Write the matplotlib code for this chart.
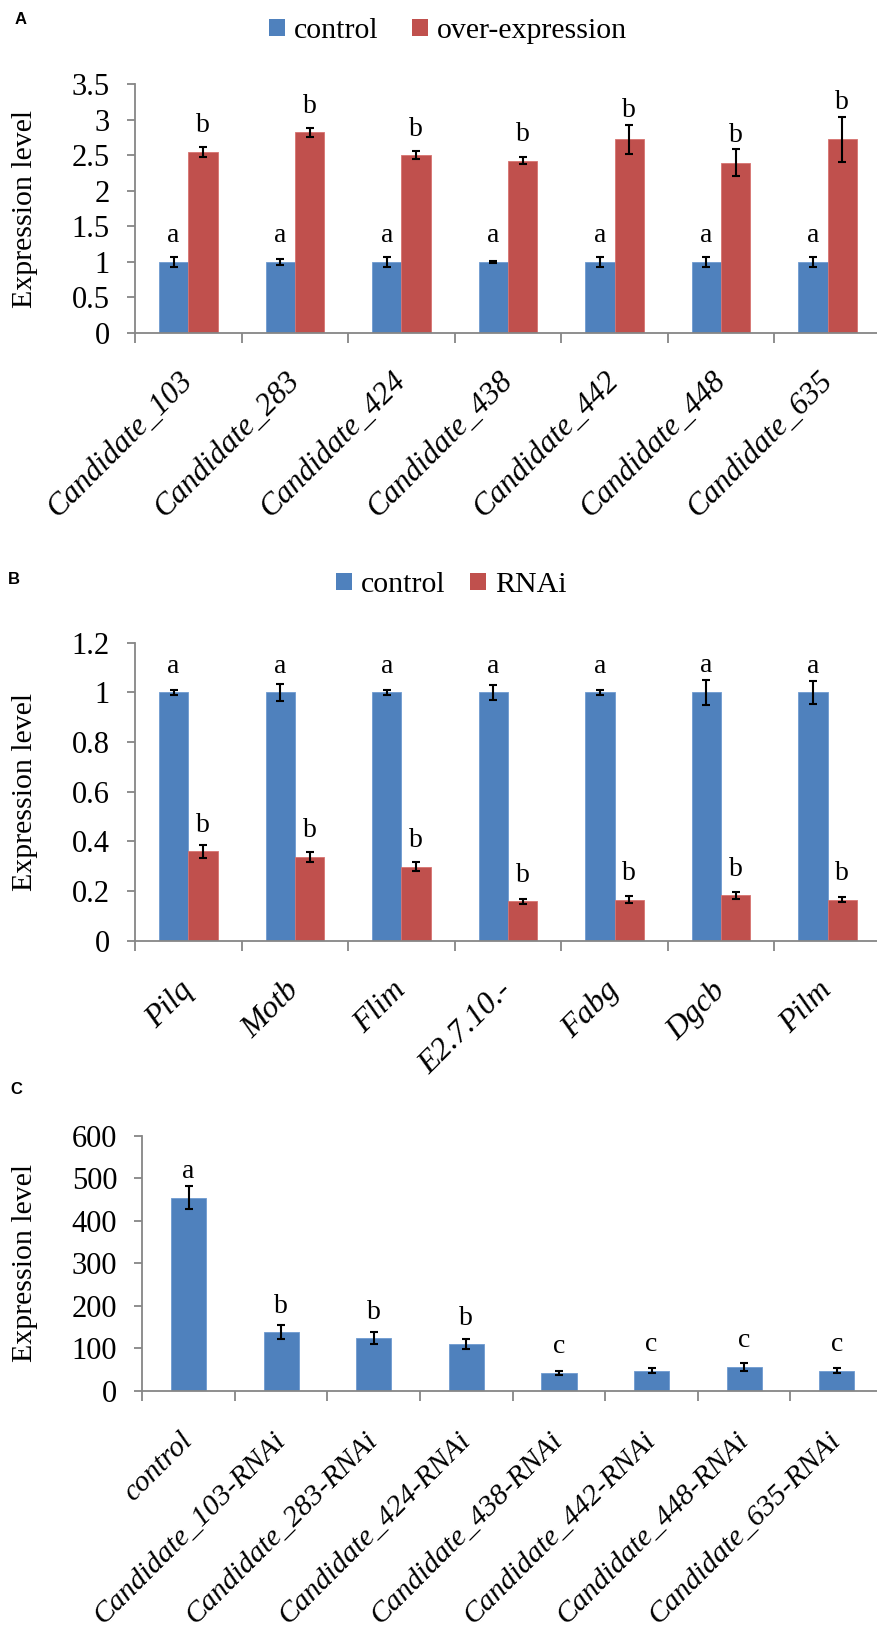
import matplotlib
matplotlib.use("Agg")
import matplotlib.pyplot as plt
import matplotlib.transforms as mtransforms
from matplotlib.patches import Patch
import numpy as np

# ---------------- data ----------------
cats_a = ["Candidate_103", "Candidate_283", "Candidate_424", "Candidate_438",
          "Candidate_442", "Candidate_448", "Candidate_635"]
ctrl_a = [1.0, 1.0, 1.0, 1.0, 1.0, 1.0, 1.0]
ctrl_a_err = [0.07, 0.04, 0.07, 0.01, 0.07, 0.07, 0.07]
over_a = [2.55, 2.82, 2.50, 2.42, 2.72, 2.39, 2.72]
over_a_err = [0.07, 0.06, 0.06, 0.05, 0.21, 0.19, 0.32]
letters_ctrl_a = ["a"] * 7
letters_over_a = ["b"] * 7

cats_b = ["Pilq", "Motb", "Flim", "E2.7.10.-", "Fabg", "Dgcb", "Pilm"]
ctrl_b = [1.0, 1.0, 1.0, 1.0, 1.0, 1.0, 1.0]
ctrl_b_err = [0.01, 0.034, 0.01, 0.029, 0.01, 0.05, 0.047]
rnai_b = [0.359, 0.337, 0.298, 0.158, 0.165, 0.182, 0.165]
rnai_b_err = [0.025, 0.02, 0.017, 0.009, 0.015, 0.013, 0.01]
letters_ctrl_b = ["a"] * 7
letters_rnai_b = ["b"] * 7

cats_c = ["control", "Candidate_103-RNAi", "Candidate_283-RNAi", "Candidate_424-RNAi",
          "Candidate_438-RNAi", "Candidate_442-RNAi", "Candidate_448-RNAi",
          "Candidate_635-RNAi"]
vals_c = [455, 138, 124, 110, 42, 47, 56, 47]
vals_c_err = [27, 16, 15, 11, 5.5, 5.5, 9.5, 5.5]
letters_c = ["a", "b", "b", "b", "c", "c", "c", "c"]

# ---------------- style ----------------
BLUE = "#4F81BD"
RED = "#C0504D"
GREY = "#868686"
SERIF = ["Liberation Serif", "DejaVu Serif"]
plt.rcParams["font.family"] = SERIF

W, H = 877, 1634
DPI = 100
fig = plt.figure(figsize=(W / DPI, H / DPI), dpi=DPI)


def rect(l, r, t, b):
    return [l / W, 1 - b / H, (r - l) / W, (b - t) / H]


def style_axes(ax, n, ymax, ystep, xlabels, xfs, xpad):
    ax.set_xlim(-0.5, n - 0.5)
    ax.set_ylim(0, ymax)
    ax.set_yticks(np.arange(0, ymax + ystep / 2, ystep))
    for s in ["top", "right"]:
        ax.spines[s].set_visible(False)
    for s in ["left", "bottom"]:
        ax.spines[s].set_color(GREY)
        ax.spines[s].set_linewidth(1.3)
    ax.tick_params(axis="y", direction="out", length=6, width=1.3, color=GREY,
                   pad=12, labelsize=22)
    ax.set_xticks(np.arange(n))
    ax.set_xticks(np.arange(-0.5, n + 0.5, 1.0), minor=True)
    ax.tick_params(axis="x", which="major", length=0, pad=xpad)
    ax.tick_params(axis="x", which="minor", direction="out", length=7, width=1.3,
                   color=GREY)
    ax.set_xticklabels(xlabels, rotation=45, ha="right", va="center",
                       rotation_mode="anchor", fontstyle="italic", fontsize=xfs)
    ax.set_ylabel("Expression level", fontsize=21.5)
    ax.yaxis.set_label_coords(38 / W, 0.5,
                              transform=mtransforms.blended_transform_factory(
                                  fig.transFigure, ax.transAxes))


def put_letter(ax, x, v, e, txt):
    p0 = ax.transData.transform((0, v))[1]
    p1 = ax.transData.transform((0, v + e))[1]
    off_px = max(26.0, (p1 - p0) + 14.0)
    ax.annotate(txt, xy=(x, v), xytext=(0, off_px * 72 / DPI),
                textcoords="offset points", ha="center", va="center",
                fontsize=20)


ebkw = dict(fmt="none", ecolor="black", elinewidth=1.5, capsize=3.2, capthick=1.5)
bw = 0.275

# ---------------- Panel A ----------------
axA = fig.add_axes(rect(135, 881, 84, 333))
xa = np.arange(len(cats_a))
axA.bar(xa - bw / 2, ctrl_a, bw, color=BLUE, edgecolor="#6E9AD0", linewidth=0.6)
axA.bar(xa + bw / 2, over_a, bw, color=RED, edgecolor="#D77370", linewidth=0.6)
axA.errorbar(xa - bw / 2, ctrl_a, yerr=ctrl_a_err, **ebkw)
axA.errorbar(xa + bw / 2, over_a, yerr=over_a_err, **ebkw)
style_axes(axA, len(cats_a), 3.5, 0.5, cats_a, 22.5, 31)
axA.set_yticklabels(["%g" % v for v in np.arange(0, 3.75, 0.5)])
for i in range(len(cats_a)):
    put_letter(axA, xa[i] - bw / 2, ctrl_a[i], ctrl_a_err[i], letters_ctrl_a[i])
    put_letter(axA, xa[i] + bw / 2, over_a[i], over_a_err[i], letters_over_a[i])

# ---------------- Panel B ----------------
axB = fig.add_axes(rect(135, 881, 642.7, 940.5))
xb = np.arange(len(cats_b))
axB.bar(xb - bw / 2, ctrl_b, bw, color=BLUE, edgecolor="#6E9AD0", linewidth=0.6)
axB.bar(xb + bw / 2, rnai_b, bw, color=RED, edgecolor="#D77370", linewidth=0.6)
axB.errorbar(xb - bw / 2, ctrl_b, yerr=ctrl_b_err, **ebkw)
axB.errorbar(xb + bw / 2, rnai_b, yerr=rnai_b_err, **ebkw)
style_axes(axB, len(cats_b), 1.2, 0.2, cats_b, 23, 33)
axB.set_yticklabels(["%g" % round(v, 1) for v in np.arange(0, 1.3, 0.2)])
for i in range(len(cats_b)):
    put_letter(axB, xb[i] - bw / 2, ctrl_b[i], ctrl_b_err[i], letters_ctrl_b[i])
    put_letter(axB, xb[i] + bw / 2, rnai_b[i], rnai_b_err[i], letters_rnai_b[i])

# ---------------- Panel C ----------------
axC = fig.add_axes(rect(142.3, 883, 1136, 1390.7))
xc = np.arange(len(cats_c))
bwc = 0.38
axC.bar(xc, vals_c, bwc, color=BLUE, edgecolor="#6E9AD0", linewidth=0.6)
axC.errorbar(xc, vals_c, yerr=vals_c_err, **ebkw)
style_axes(axC, len(cats_c), 600, 100, cats_c, 21.5, 33)
for i in range(len(cats_c)):
    put_letter(axC, xc[i], vals_c[i], vals_c_err[i], letters_c[i])


# ---------------- legends ----------------
def legend(labels, colors, cx, cy, colsp):
    handles = [Patch(facecolor=c, edgecolor="none") for c in colors]
    fig.legend(handles, labels, loc="center", bbox_to_anchor=(cx / W, 1 - cy / H),
               ncol=len(labels), frameon=False, fontsize=21.5,
               handlelength=0.55, handleheight=0.5, handletextpad=0.3,
               columnspacing=colsp, borderaxespad=0)


legend(["control", "over-expression"], [BLUE, RED], 448, 31, 1.1)
legend(["control", "RNAi"], [BLUE, RED], 451, 585, 0.8)

# ---------------- panel letters ----------------
for lab, x, y in [("A", 15, 19), ("B", 8, 580), ("C", 10, 1090)]:
    fig.text(x / W, 1 - y / H, lab, fontsize=12, fontweight="bold",
             family=["Liberation Sans", "DejaVu Sans"], ha="left", va="center")

fig.savefig("out.png", dpi=DPI)
